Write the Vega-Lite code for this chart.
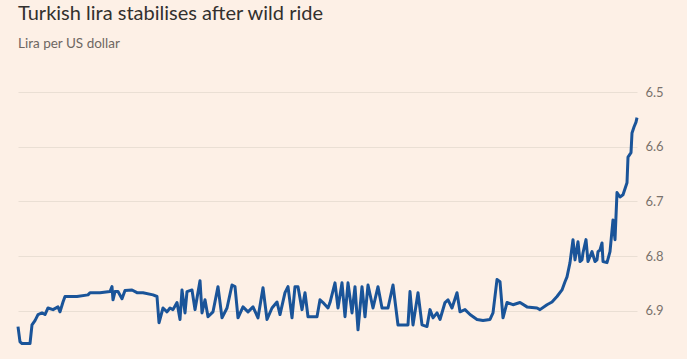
{
  "$schema": "https://vega.github.io/schema/vega-lite/v6.json",
  "autosize": {"type": "none"},
  "width": 619,
  "height": 257,
  "padding": {"left": 18, "top": 92, "right": 50, "bottom": 10},
  "background": "#fdf0e6",
  "config": {"view": {"stroke": null}, "font": "Lato"},
  "title": {
    "text": "Turkish lira stabilises after wild ride",
    "subtitle": "Lira per US dollar",
    "anchor": "start",
    "frame": "group",
    "font": "Lato",
    "fontSize": 20,
    "fontWeight": "normal",
    "color": "#33302e",
    "subtitleFont": "Lato",
    "subtitleFontSize": 13.5,
    "subtitleColor": "#6e6762",
    "subtitlePadding": 13,
    "offset": 36
  },
  "data": {
    "values": [
      {"t": 18, "v": 6.929}, {"t": 20, "v": 6.957}, {"t": 22, "v": 6.960}, {"t": 30, "v": 6.960},
      {"t": 32, "v": 6.926}, {"t": 35, "v": 6.918}, {"t": 38, "v": 6.907}, {"t": 42, "v": 6.904},
      {"t": 45, "v": 6.907}, {"t": 48, "v": 6.895}, {"t": 53, "v": 6.898}, {"t": 58, "v": 6.893},
      {"t": 60, "v": 6.902}, {"t": 63, "v": 6.884}, {"t": 65, "v": 6.874}, {"t": 77, "v": 6.874},
      {"t": 88, "v": 6.871}, {"t": 90, "v": 6.867}, {"t": 100, "v": 6.867}, {"t": 110, "v": 6.865},
      {"t": 112, "v": 6.856}, {"t": 113, "v": 6.880}, {"t": 115, "v": 6.865}, {"t": 118, "v": 6.865},
      {"t": 122, "v": 6.878}, {"t": 125, "v": 6.863}, {"t": 132, "v": 6.862}, {"t": 137, "v": 6.867},
      {"t": 143, "v": 6.867}, {"t": 153, "v": 6.871}, {"t": 157, "v": 6.874}, {"t": 159, "v": 6.922},
      {"t": 163, "v": 6.895}, {"t": 167, "v": 6.902}, {"t": 170, "v": 6.895}, {"t": 173, "v": 6.898},
      {"t": 177, "v": 6.885}, {"t": 180, "v": 6.916}, {"t": 182, "v": 6.862}, {"t": 185, "v": 6.904},
      {"t": 187, "v": 6.865}, {"t": 192, "v": 6.862}, {"t": 195, "v": 6.898}, {"t": 200, "v": 6.845},
      {"t": 202, "v": 6.904}, {"t": 205, "v": 6.880}, {"t": 208, "v": 6.911}, {"t": 213, "v": 6.902},
      {"t": 218, "v": 6.856}, {"t": 222, "v": 6.913}, {"t": 227, "v": 6.895}, {"t": 232, "v": 6.853},
      {"t": 235, "v": 6.856}, {"t": 238, "v": 6.913}, {"t": 243, "v": 6.893}, {"t": 248, "v": 6.902},
      {"t": 253, "v": 6.893}, {"t": 258, "v": 6.913}, {"t": 263, "v": 6.858}, {"t": 267, "v": 6.916},
      {"t": 272, "v": 6.895}, {"t": 277, "v": 6.884}, {"t": 280, "v": 6.907}, {"t": 285, "v": 6.867},
      {"t": 288, "v": 6.856}, {"t": 292, "v": 6.913}, {"t": 295, "v": 6.856}, {"t": 298, "v": 6.856},
      {"t": 302, "v": 6.898}, {"t": 305, "v": 6.867}, {"t": 308, "v": 6.911}, {"t": 317, "v": 6.911},
      {"t": 320, "v": 6.880}, {"t": 323, "v": 6.885}, {"t": 328, "v": 6.895}, {"t": 330, "v": 6.885},
      {"t": 335, "v": 6.849}, {"t": 338, "v": 6.895}, {"t": 342, "v": 6.849}, {"t": 345, "v": 6.911},
      {"t": 348, "v": 6.849}, {"t": 352, "v": 6.904}, {"t": 355, "v": 6.856}, {"t": 358, "v": 6.935},
      {"t": 362, "v": 6.856}, {"t": 365, "v": 6.911}, {"t": 368, "v": 6.853}, {"t": 373, "v": 6.895},
      {"t": 378, "v": 6.856}, {"t": 382, "v": 6.895}, {"t": 388, "v": 6.895}, {"t": 393, "v": 6.853},
      {"t": 398, "v": 6.926}, {"t": 408, "v": 6.926}, {"t": 410, "v": 6.865}, {"t": 413, "v": 6.926},
      {"t": 418, "v": 6.867}, {"t": 422, "v": 6.926}, {"t": 427, "v": 6.929}, {"t": 430, "v": 6.898},
      {"t": 433, "v": 6.913}, {"t": 437, "v": 6.904}, {"t": 440, "v": 6.916}, {"t": 445, "v": 6.885},
      {"t": 448, "v": 6.880}, {"t": 452, "v": 6.895}, {"t": 457, "v": 6.867}, {"t": 460, "v": 6.902},
      {"t": 465, "v": 6.898}, {"t": 470, "v": 6.907}, {"t": 477, "v": 6.916}, {"t": 483, "v": 6.918},
      {"t": 490, "v": 6.916}, {"t": 493, "v": 6.904}, {"t": 497, "v": 6.843}, {"t": 500, "v": 6.847},
      {"t": 503, "v": 6.913}, {"t": 507, "v": 6.885}, {"t": 513, "v": 6.889}, {"t": 520, "v": 6.885},
      {"t": 527, "v": 6.893}, {"t": 537, "v": 6.895}, {"t": 540, "v": 6.898}, {"t": 547, "v": 6.889},
      {"t": 552, "v": 6.884}, {"t": 557, "v": 6.874}, {"t": 562, "v": 6.862}, {"t": 565, "v": 6.847},
      {"t": 567, "v": 6.838}, {"t": 570, "v": 6.812}, {"t": 573, "v": 6.770}, {"t": 575, "v": 6.807},
      {"t": 578, "v": 6.774}, {"t": 580, "v": 6.810}, {"t": 582, "v": 6.807}, {"t": 583, "v": 6.794},
      {"t": 586, "v": 6.770}, {"t": 588, "v": 6.810}, {"t": 592, "v": 6.792}, {"t": 593, "v": 6.798},
      {"t": 595, "v": 6.810}, {"t": 597, "v": 6.807}, {"t": 598, "v": 6.792}, {"t": 600, "v": 6.789},
      {"t": 602, "v": 6.776}, {"t": 603, "v": 6.810}, {"t": 607, "v": 6.812}, {"t": 610, "v": 6.792},
      {"t": 613, "v": 6.734}, {"t": 615, "v": 6.770}, {"t": 617, "v": 6.684}, {"t": 620, "v": 6.692},
      {"t": 623, "v": 6.688}, {"t": 627, "v": 6.666}, {"t": 628, "v": 6.619}, {"t": 631, "v": 6.611},
      {"t": 632, "v": 6.575}, {"t": 634, "v": 6.564}, {"t": 636, "v": 6.555}, {"t": 637, "v": 6.547}
    ]
  },
  "mark": {"type": "line", "color": "#1a5499", "strokeWidth": 3, "strokeJoin": "round"},
  "encoding": {
    "x": {"field": "t", "type": "quantitative", "axis": null,
          "scale": {"domain": [18, 637], "zero": false, "nice": false}},
    "y": {"field": "v", "type": "quantitative",
          "scale": {"domain": [6.5, 6.97], "reverse": true, "zero": false, "nice": false},
          "axis": {"orient": "right", "title": null, "values": [6.5, 6.6, 6.7, 6.8, 6.9],
                   "format": ".1f", "domain": false, "ticks": false, "labelPadding": 8,
                   "labelFont": "Lato", "labelFontSize": 13, "labelColor": "#7a726c",
                   "gridColor": "#eadfd4", "gridWidth": 1}}
  }
}
